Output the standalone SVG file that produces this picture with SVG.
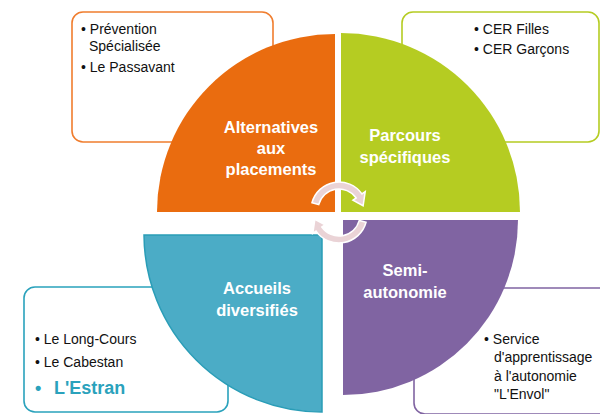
<svg xmlns="http://www.w3.org/2000/svg" width="600" height="414" viewBox="0 0 600 414">
<style>
.box{fill:#fff;stroke-width:1.6}
.t{font-family:"Liberation Sans",Arial,sans-serif;font-size:14px;fill:#111}
.h{font-family:"Liberation Sans",Arial,sans-serif;font-size:16.5px;font-weight:bold;fill:#fff;text-anchor:middle}
.arr{fill:#ead3d6;stroke:#fff;stroke-width:1.5}
</style>
<rect width="600" height="414" fill="#fff"/>
<g id="box-orange">
<rect class="box" x="72" y="12" width="201" height="130" rx="11" stroke="#F07D2E"/>
<text class="t" x="81" y="34">• Prévention</text>
<text class="t" x="89" y="51">Spécialisée</text>
<text class="t" x="81" y="72">• Le Passavant</text>
</g>
<g id="box-green">
<rect class="box" x="402" y="12" width="197" height="130" rx="11" stroke="#B5CC22"/>
<text class="t" x="474" y="34">• CER Filles</text>
<text class="t" x="474" y="54">• CER Garçons</text>
</g>
<g id="box-teal">
<rect class="box" x="24" y="287" width="204" height="125" rx="11" stroke="#2AA2BC"/>
<text class="t" x="35" y="344">• Le Long-Cours</text>
<text class="t" x="35" y="367">• Le Cabestan</text>
<text class="t" x="35" y="394" style="font-size:18px;font-weight:bold;fill:#2AA2BC">•<tspan x="54">L'Estran</tspan></text>
</g>
<g id="box-purple">
<rect class="box" x="414" y="288" width="200" height="126" rx="11" stroke="#8064A2"/>
<text class="t" x="484" y="344">• Service</text>
<text class="t" x="494" y="362">d'apprentissage</text>
<text class="t" x="494" y="381">à l'autonomie</text>
<text class="t" x="494" y="399">"L'Envol"</text>
</g>
<g id="node-orange">
<path d="M335,212 L157,212 A178,178 0 0 1 335,34 Z" fill="#EA6C0F"/>
<text class="h" x="271" y="133">Alternatives</text>
<text class="h" x="271" y="154">aux</text>
<text class="h" x="271" y="175">placements</text>
</g>
<g id="node-green">
<path d="M341,212 L341,33 A179,179 0 0 1 520,212 Z" fill="#B5CC22"/>
<text class="h" x="405" y="141">Parcours</text>
<text class="h" x="405" y="163">spécifiques</text>
</g>
<g id="node-teal">
<path d="M322,235 L322,412 A178,178 0 0 1 144,235 Z" fill="#4BACC6" stroke="#2A9DB7" stroke-width="1.5"/>
<text class="h" x="257" y="294">Accueils</text>
<text class="h" x="257" y="316">diversifiés</text>
</g>
<g id="node-purple">
<path d="M343,220 L518,220 A175,175 0 0 1 343,395 Z" fill="#8064A2"/>
<text class="h" x="405" y="276">Semi-</text>
<text class="h" x="405" y="298">autonomie</text>
</g>
<g id="connectors">
<path class="arr" d="M311.95,202.75 A28,28 0 0 1 361.94,193.94 L365.21,191.64 L363.13,205.75 L352.93,200.25 L356.20,197.95 A21,21 0 0 0 318.72,204.57 Z"/>
<path class="arr" d="M366.05,222.25 A28,28 0 0 1 316.06,231.06 L312.79,233.36 L314.87,219.25 L325.07,224.75 L321.80,227.05 A21,21 0 0 0 359.28,220.43 Z"/>
</g>
</svg>
